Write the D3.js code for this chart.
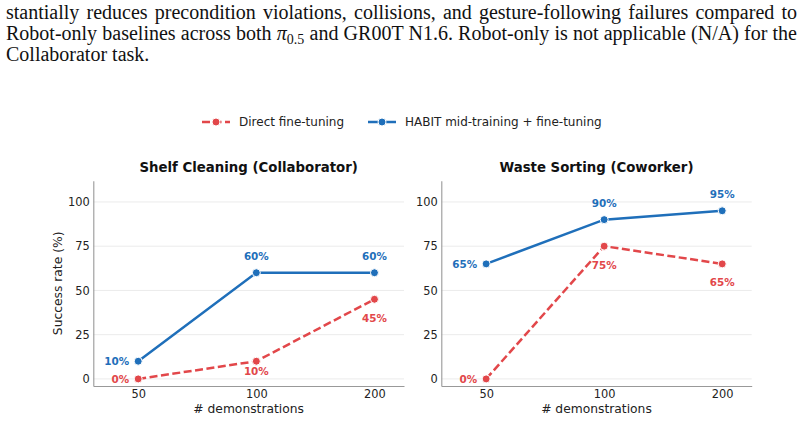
<!DOCTYPE html>
<html>
<head>
<meta charset="utf-8">
<script src="https://cdn.jsdelivr.net/npm/d3@7"></script>
<style>
  body { margin: 0; background: #fff; }
  svg { display: block; }
</style>
</head>
<body>
<svg id="chart" width="804" height="421"></svg>
<script>
// chart data
const demos = ['50', '100', '200'];
const panelTitles = ['Shelf Cleaning (Collaborator)', 'Waste Sorting (Coworker)'];
const directShelf = [0, 10, 45];
const habitShelf = [10, 60, 60];
const directWaste = [0, 75, 65];
const habitWaste = [65, 90, 95];
const yTicks = [0, 25, 50, 75, 100];
const seriesNames = ['Direct fine-tuning', 'HABIT mid-training + fine-tuning'];

const captionLines = [
  'stantially reduces precondition violations, collisions, and gesture-following failures compared to',
  null, // line with the pi subscript, built below
  'Collaborator task.'
];

const RED = '#e2474a';
const BLUE = '#1f6fba';
const SANS = 'DejaVu Sans, sans-serif';
const SERIF = 'Liberation Serif, Times New Roman, serif';

const svg = d3.select('#chart');

// caption text above the figure (justified lines)
const cap = svg.append('g').attr('font-family', SERIF).attr('font-size', '20px').attr('fill', '#111');
function justify(t, x0, x1) {
  const w = t.node().getComputedTextLength();
  const words = (t.text().match(/ /g) || []).length;
  t.attr('word-spacing', ((x1 - x0) - w) / words);
}
const l1 = cap.append('text').attr('x', 6).attr('y', 18.5).text(captionLines[0]);
justify(l1, 6, 797);
const l2 = cap.append('text').attr('x', 6).attr('y', 39.5);
l2.append('tspan').text('Robot-only baselines across both ');
l2.append('tspan').attr('font-style', 'italic').text('π');
l2.append('tspan').attr('font-size', '14px').attr('dy', 4).text('0.5');
l2.append('tspan').attr('dy', -4).text(' and GR00T N1.6. Robot-only is not applicable (N/A) for the');
justify(l2, 6, 797);
cap.append('text').attr('x', 6).attr('y', 60.5).text(captionLines[2]);

// legend
const legend = svg.append('g').attr('font-family', SANS).attr('font-size', '12px').attr('fill', '#222');
const legItems = [
  { name: seriesNames[0], color: RED, dash: '8,3.5', x0: 202 },
  { name: seriesNames[1], color: BLUE, dash: null, x0: 368 }
];
legItems.forEach((d) => {
  legend.append('line')
    .attr('x1', d.x0).attr('x2', d.x0 + 28).attr('y1', 122).attr('y2', 122)
    .attr('stroke', d.color).attr('stroke-width', 2.5)
    .attr('stroke-dasharray', d.dash);
  legend.append('circle')
    .attr('cx', d.x0 + 14).attr('cy', 122).attr('r', 4)
    .attr('fill', d.color).attr('stroke', '#fff').attr('stroke-width', 1);
  legend.append('text')
    .attr('x', d.x0 + 37).attr('y', 122).attr('dy', '0.35em')
    .text(d.name);
});

// panels
const panels = [
  { title: panelTitles[0], left: 93.3, right: 404, direct: directShelf, habit: habitShelf, ylabel: true },
  { title: panelTitles[1], left: 441.3, right: 751.7, direct: directWaste, habit: habitWaste, ylabel: false }
];
const plotTop = 180.7, plotBottom = 386;

const y = d3.scaleLinear().domain([-4, 112]).range([plotBottom, plotTop]);

panels.forEach((p) => {
  const x = d3.scaleLinear().domain([-0.38, 2.25]).range([p.left, p.right]);
  const g = svg.append('g').attr('font-family', SANS);

  // grid
  g.selectAll('.grid')
    .data(yTicks)
    .enter()
    .append('line')
    .attr('x1', p.left).attr('x2', p.right)
    .attr('y1', (d) => y(d)).attr('y2', (d) => y(d))
    .attr('stroke', '#ebebeb').attr('stroke-width', 1);

  // axes
  const yAxis = d3.axisLeft(y).tickValues(yTicks).tickSize(0).tickPadding(3.5);
  const ya = g.append('g').attr('transform', `translate(${p.left},0)`).call(yAxis);
  const xAxis = d3.axisBottom(x).tickValues([0, 1, 2]).tickFormat((i) => demos[i]).tickSize(0).tickPadding(4);
  const xa = g.append('g').attr('transform', `translate(0,${plotBottom})`).call(xAxis);
  [ya, xa].forEach((a) => {
    a.select('.domain').attr('stroke', '#999').attr('stroke-width', 1.1);
    a.selectAll('text').attr('font-size', '11.4px').attr('fill', '#222').attr('font-family', SANS);
  });

  // titles and labels
  g.append('text')
    .attr('x', (p.left + p.right) / 2).attr('y', 167).attr('dy', '0.35em')
    .attr('text-anchor', 'middle').attr('font-weight', 'bold').attr('font-size', '13.3px').attr('fill', '#111')
    .text(p.title);
  g.append('text')
    .attr('x', (p.left + p.right) / 2).attr('y', 409).attr('dy', '0.35em')
    .attr('text-anchor', 'middle').attr('font-size', '12.3px').attr('fill', '#222')
    .text('# demonstrations');
  if (p.ylabel) {
    g.append('text')
      .attr('transform', `translate(58,${(plotTop + plotBottom) / 2}) rotate(-90)`)
      .attr('dy', '0.35em')
      .attr('text-anchor', 'middle').attr('font-size', '12.3px').attr('fill', '#222')
      .text('Success rate (%)');
  }

  const series = [
    { vals: p.direct, color: RED, dash: '8,3.5', above: false },
    { vals: p.habit, color: BLUE, dash: null, above: true }
  ];
  const line = d3.line().x((d, i) => x(i)).y((d) => y(d));

  series.forEach((s) => {
    g.append('path')
      .datum(s.vals)
      .attr('d', line)
      .attr('fill', 'none')
      .attr('stroke', s.color).attr('stroke-width', 2.5)
      .attr('stroke-dasharray', s.dash);
    g.selectAll(null)
      .data(s.vals)
      .enter()
      .append('circle')
      .attr('cx', (d, i) => x(i)).attr('cy', (d) => y(d)).attr('r', 4)
      .attr('fill', s.color).attr('stroke', '#fff').attr('stroke-width', 1);
    // value labels: first point to the left, others above (habit) or below (direct)
    g.selectAll(null)
      .data(s.vals)
      .enter()
      .append('text')
      .attr('x', (d, i) => (i === 0 ? x(i) - 9 : x(i)))
      .attr('y', (d, i) => {
        if (i === 0) return y(d);
        return s.above ? y(d + 9) : y(Math.max(d - 10.7, 4.4));
      })
      .attr('dy', '0.35em')
      .attr('text-anchor', (d, i) => (i === 0 ? 'end' : 'middle'))
      .attr('font-size', '10.4px').attr('font-weight', 'bold')
      .attr('fill', s.color)
      .text((d) => `${d}%`);
  });
});
</script>
</body>
</html>
